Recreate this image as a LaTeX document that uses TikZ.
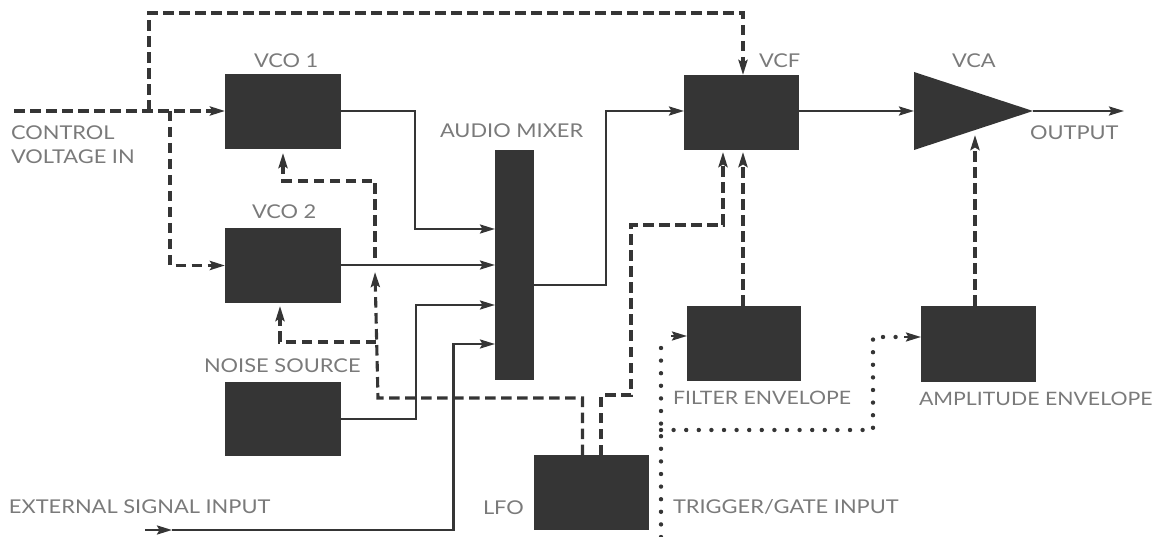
\documentclass[tikz,border=0pt]{standalone}
\usepackage{fontspec}
\setmainfont{Lato}[FakeStretch=1.15]
\usetikzlibrary{arrows.meta,shapes.geometric,calc}
\definecolor{ink}{HTML}{353535}
\definecolor{lab}{HTML}{7A7A7A}
\tikzset{
  blk/.style={draw=none,fill=ink,inner sep=0pt,outer sep=0pt},
  lbl/.style={anchor=west,inner sep=0pt,outer sep=0pt,yshift=-1pt,text=lab,font=\fontsize{19}{22}\selectfont},
  lblsm/.style={lbl,font=\fontsize{18.5}{22}\selectfont},
  sig/.style={draw=ink,line width=2.5pt},
  ctl/.style={draw=ink,line width=3.1pt,dash pattern=on 10.5pt off 5.5pt},
  dots/.style={draw=ink,line width=4.4pt,line cap=round,dash pattern=on 0pt off 12.6pt},
  tip/.style={-{Stealth[length=15pt,width=9pt,inset=2.5pt]}}
}
\begin{document}
\begin{tikzpicture}[x=1pt,y=-1pt]
\useasboundingbox (0,0) rectangle (1154,537);
% blocks
\node[blk,minimum width=116pt,minimum height=75pt] (vco1) at (283,112) {};
\node[blk,minimum width=116pt,minimum height=75pt] (vco2) at (283,265.5) {};
\node[blk,minimum width=116pt,minimum height=74pt] (noise) at (283,419) {};
\node[blk,minimum width=39pt,minimum height=230pt] (mixer) at (514.5,265) {};
\node[blk,minimum width=115pt,minimum height=75pt] (lfo) at (591.5,492.5) {};
\node[blk,minimum width=115pt,minimum height=75pt] (vcf) at (741.5,112.5) {};
\node[blk,minimum width=114pt,minimum height=75pt] (fenv) at (744,343.5) {};
\node[blk,minimum width=115pt,minimum height=76pt] (aenv) at (978.5,344) {};
\node[blk,shape=isosceles triangle,isosceles triangle stretches,shape border rotate=0,minimum width=78pt,minimum height=119pt,anchor=apex] (vca) at (1033,111) {};
% labels
\node[lbl] (tctl) at (11,132) {CONTROL};
\node[lbl] (tvolt) at (11,156) {VOLTAGE IN};
\node[lbl] (tv1) at (254,60) {VCO 1};
\node[lbl] (tv2) at (252,211) {VCO 2};
\node[lbl] (tmix) at (440,130) {AUDIO MIXER};
\node[lbl] (tnoise) at (204,365) {NOISE SOURCE};
\node[lbl] (text) at (9,506) {EXTERNAL SIGNAL INPUT};
\node[lbl] (tlfo) at (483,507) {LFO};
\node[lbl] (tvcf) at (759,60) {VCF};
\node[lbl] (tvca) at (952,60) {VCA};
\node[lbl] (tout) at (1030,132) {OUTPUT};
\node[lblsm] (tfe) at (673,397) {FILTER ENVELOPE};
\node[lblsm] (tae) at (919,398) {AMPLITUDE ENVELOPE};
\node[lbl] (ttg) at (673,506) {TRIGGER/GATE INPUT};
% named points
\coordinate (cvin) at (14,111);
\coordinate (jup) at (149,111);
\coordinate (jdn) at (170,111);
\coordinate (topl) at (149,13);
\coordinate (topr) at (743,13);
\coordinate (vcftop) at (743,75);
\coordinate (vcfb1) at (723,152);
\coordinate (vcfb2) at (743,152);
\coordinate (m1) at (495,229);
\coordinate (m2) at (495,265);
\coordinate (m3) at (495,305);
\coordinate (m4) at (495,344);
\coordinate (mo) at (534,285);
\coordinate (bus1) at (415,229);
\coordinate (bus3) at (416,305);
\coordinate (bus4) at (453.5,344);
\coordinate (extin) at (145,530);
\coordinate (extmid) at (172,530);
\coordinate (extcor) at (453.5,530);
\coordinate (outr) at (1124,111);
\coordinate (vcaun) at (975,135);
\coordinate (lfol) at (582.5,455);
\coordinate (lfor) at (601,455);
\coordinate (lfm1) at (582.5,398);
\coordinate (lfm2) at (378,398);
\coordinate (lfm3) at (376,342);
\coordinate (lfm4) at (375,272);
\coordinate (v1a) at (375,258);
\coordinate (v1b) at (375,181);
\coordinate (v1c) at (283,181);
\coordinate (v1d) at (283,153);
\coordinate (v2a) at (280,342);
\coordinate (v2b) at (280,306);
\coordinate (lr1) at (601,395);
\coordinate (lr2) at (631,395);
\coordinate (lr3) at (631,225);
\coordinate (lr4) at (723,225);
\coordinate (fe) at (743,306);
\coordinate (ae) at (975,306);
\coordinate (tgb) at (661,537);
\coordinate (tgt) at (661,336);
\coordinate (tgj) at (661,430);
\coordinate (tgr) at (873,430);
\coordinate (tgu) at (873,337);
\coordinate (tga) at (671,336);
\coordinate (tgv) at (904,337);
% solid connectors
\draw[sig,tip] (vco1.east |- jup) -- (bus1 |- jup) -- (bus1) -- (m1);
\draw[sig,tip] (vco2.east |- m2) -- (m2);
\draw[sig,tip] (noise.east) -| (bus3) -- (m3);
\draw[sig,tip] (extin) -- (extmid);
\draw[sig,tip] (extmid) -- (extcor) -- (bus4) -- (m4);
\draw[sig,tip] (mo) -| (606,111) -- (vcf.west |- jup);
\draw[sig,tip] (vcf.east |- jup) -- (914,111);
\draw[sig,tip] (vca.apex) -- (outr);
% dashed control connectors
\draw[ctl,tip] (cvin) -- (vco1.west |- jup);
\draw[ctl,tip] (jup) -- (topl) -- (topr) -- (vcftop);
\draw[ctl,tip] (jdn) -- (jdn |- vco2.west) -- (vco2.west);
\draw[ctl,tip] (lfol) -- (lfm1) -- (lfm2) -- (lfm4);
\draw[ctl,tip] (v1a) -- (v1b) -- (v1c) -- (v1d);
\draw[ctl,tip] (lfm3) -- (v2a) -- (v2b);
\draw[ctl,tip] (lfor) -- (lr1) -- (lr2) -- (lr3) -- (lr4) -- (vcfb1);
\draw[ctl,tip] (fe) -- (vcfb2);
\draw[ctl,tip] (ae) -- (vcaun);
% dotted trigger connectors
\draw[dots] (tgb) -- (tgt);
\draw[sig,tip] (tga) -- (fenv.west |- tgt);
\draw[dots] (tgj) -- (tgr) -- (tgu) -- (tgv);
\draw[sig,tip] (tgv) -- (aenv.west |- tgu);
\end{tikzpicture}
\end{document}
